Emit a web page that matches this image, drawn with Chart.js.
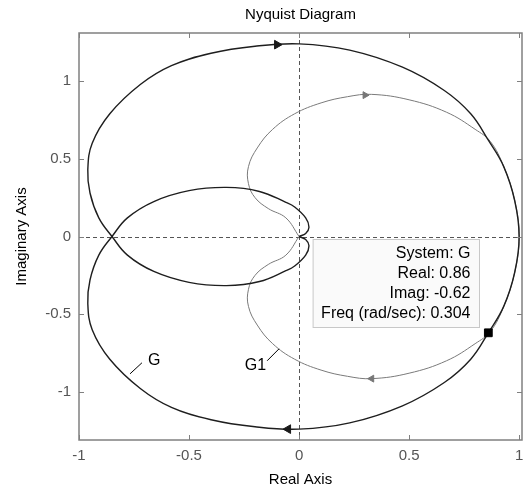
<!DOCTYPE html>
<html>
<head>
<meta charset="utf-8">
<script src="https://cdn.jsdelivr.net/npm/chart.js@4.4.0/dist/chart.umd.min.js"></script>
<style>
  html, body { margin: 0; padding: 0; background: #ffffff; }
</style>
</head>
<body>
<canvas id="nyquist" width="532" height="491"></canvas>
<script>
/* --------------- Curve G (real / imag, from w = -inf to +inf) --------------------- */
const gRe = [0, 0.03, 0.045, 0.03, -0.02, -0.06, -0.18, -0.33, -0.5, -0.66, -0.78, -0.85,
             -0.91, -0.95, -0.96, -0.94, -0.86, -0.72, -0.58, -0.40, -0.2, 0, 0.23, 0.47, 0.66, 0.78, 0.86, 0.93, 0.98, 1.0,
             0.98, 0.93, 0.86, 0.78, 0.66, 0.47, 0.23, 0, -0.2, -0.40, -0.58, -0.72, -0.86, -0.94, -0.96, -0.95, -0.91,
             -0.85, -0.78, -0.66, -0.5, -0.33, -0.18, -0.06, -0.02, 0.03, 0.045, 0.03, 0];
const gIm = [0, -0.02, -0.06, -0.12, -0.19, -0.22, -0.29, -0.316, -0.295, -0.225, -0.12, 0,
             0.12, 0.28, 0.43, 0.60, 0.79, 0.98, 1.10, 1.18, 1.225, 1.24, 1.20, 1.09, 0.94, 0.79, 0.62, 0.45, 0.23, 0,
             -0.23, -0.45, -0.62, -0.79, -0.94, -1.09, -1.20, -1.24, -1.225, -1.18, -1.10, -0.98, -0.79, -0.60, -0.43, -0.28, -0.12,
             0, 0.12, 0.225, 0.295, 0.316, 0.29, 0.22, 0.19, 0.12, 0.06, 0.02, 0];
/* --------------- Curve G1 --------------------- */
const g1Re = [0, -0.06, -0.14, -0.20, -0.23, -0.23, -0.19, -0.12, -0.02, 0.1, 0.22, 0.33, 0.5, 0.67, 0.8, 0.87, 0.93, 0.98, 1.0,
              0.98, 0.93, 0.87, 0.8, 0.67, 0.5, 0.33, 0.22, 0.1, -0.02, -0.12, -0.19, -0.23, -0.23, -0.20, -0.14, -0.06, 0];
const g1Im = [0, 0.12, 0.18, 0.25, 0.34, 0.45, 0.57, 0.69, 0.79, 0.86, 0.90, 0.915, 0.88, 0.80, 0.69, 0.61, 0.45, 0.23, 0,
              -0.23, -0.45, -0.61, -0.69, -0.80, -0.88, -0.915, -0.90, -0.86, -0.79, -0.69, -0.57, -0.45, -0.34, -0.25, -0.18, -0.12, 0];
/* --------------- Direction arrows --------------------- */
const gArrowRe = [-0.1, -0.05];
const gArrowIm = [1.235, -1.24];
const g1ArrowRe = [0.30, 0.33];
const g1ArrowIm = [0.91, -0.915];
const arrowTurn = [90, -90];
/* --------------- Data tip --------------------- */
const tipRe = 0.86;
const tipIm = -0.62;
const tipFreq = 0.304;
const tipLines = ["System: G", "Real: " + tipRe, "Imag: " + tipIm, "Freq (rad/sec): " + tipFreq];
/* --------------- Ticks --------------------- */
const xTicks = [-1, -0.5, 0, 0.5, 1];
const yTicks = [-1, -0.5, 0, 0.5, 1];
const xTickLabels = ["-1", "-0.5", "0", "0.5", "1"];
const yTickLabels = ["-1", "-0.5", "0", "0.5", "1"];

const FONT = "Arial, 'Liberation Sans', sans-serif";
const toPoints = (re, im) => re.map((v, i) => ({ x: v, y: im[i] }));

/* --------------- Frame, zero lines, labels, data tip --------------------- */
const nyquistExtras = {
  id: "nyquistExtras",
  beforeDatasetsDraw(chart) {
    const { ctx, chartArea: a, scales: { x, y } } = chart;
    ctx.save();
    ctx.strokeStyle = "#555555";
    ctx.lineWidth = 1;
    ctx.setLineDash([4, 3]);
    const x0 = Math.round(x.getPixelForValue(0)) + 0.5;
    const y0 = Math.round(y.getPixelForValue(0)) + 0.5;
    ctx.beginPath();
    ctx.moveTo(x0, a.top); ctx.lineTo(x0, a.bottom);
    ctx.moveTo(a.left, y0); ctx.lineTo(a.right, y0);
    ctx.stroke();
    ctx.restore();
  },
  afterDatasetsDraw(chart) {
    const { ctx, chartArea: a, scales: { x, y } } = chart;
    ctx.save();
    // frame
    ctx.strokeStyle = "#808080";
    ctx.lineWidth = 1.5;
    ctx.strokeRect(a.left, a.top, a.right - a.left, a.bottom - a.top);
    // inward ticks
    ctx.lineWidth = 1;
    ctx.beginPath();
    xTicks.forEach((v) => {
      const px = Math.round(x.getPixelForValue(v)) + 0.5;
      ctx.moveTo(px, a.bottom); ctx.lineTo(px, a.bottom - 5);
      ctx.moveTo(px, a.top); ctx.lineTo(px, a.top + 5);
    });
    yTicks.forEach((v) => {
      const py = Math.round(y.getPixelForValue(v)) + 0.5;
      ctx.moveTo(a.left, py); ctx.lineTo(a.left + 5, py);
      ctx.moveTo(a.right, py); ctx.lineTo(a.right - 5, py);
    });
    ctx.stroke();

    // title
    ctx.fillStyle = "#000000";
    ctx.font = "15px " + FONT;
    ctx.textAlign = "center";
    ctx.textBaseline = "middle";
    ctx.fillText("Nyquist Diagram", (a.left + a.right) / 2, 15);

    // curve labels with leader lines
    ctx.strokeStyle = "#000000";
    ctx.beginPath();
    ctx.moveTo(x.getPixelForValue(-0.768), y.getPixelForValue(-0.884));
    ctx.lineTo(x.getPixelForValue(-0.714), y.getPixelForValue(-0.813));
    ctx.moveTo(x.getPixelForValue(-0.145), y.getPixelForValue(-0.80));
    ctx.lineTo(x.getPixelForValue(-0.091), y.getPixelForValue(-0.723));
    ctx.stroke();
    ctx.font = "16px " + FONT;
    ctx.textAlign = "left";
    ctx.fillText("G", x.getPixelForValue(-0.686), y.getPixelForValue(-0.80));
    ctx.textAlign = "right";
    ctx.fillText("G1", x.getPixelForValue(-0.150), y.getPixelForValue(-0.83));

    // data tip box
    const tx = x.getPixelForValue(tipRe);
    const ty = y.getPixelForValue(tipIm);
    ctx.font = "16px " + FONT;
    const w = Math.max(...tipLines.map((t) => ctx.measureText(t).width)) + 17;
    const right = Math.round(tx - 9) + 0.5;
    const bottom = Math.round(ty - 6) + 0.5;
    const h = 88;
    ctx.fillStyle = "#fafafa";
    ctx.fillRect(right - w, bottom - h, w, h);
    ctx.strokeStyle = "#c8c8c8";
    ctx.strokeRect(right - w, bottom - h, w, h);
    ctx.fillStyle = "#000000";
    ctx.textAlign = "right";
    tipLines.forEach((t, i) => ctx.fillText(t, right - 9, bottom - h + 14 + i * 20));
    ctx.restore();
  },
};

/* --------------- Chart --------------------- */
const nyquistChart = new Chart(document.getElementById("nyquist"), {
  type: "scatter",
  plugins: [nyquistExtras],
  data: {
    datasets: [
      {
        label: "tip",
        data: [{ x: tipRe, y: tipIm }],
        pointStyle: "rect",
        pointRadius: 5.5,
        backgroundColor: "#000000",
        borderColor: "#000000",
        order: 0,
      },
      {
        label: "G arrows",
        data: toPoints(gArrowRe, gArrowIm),
        pointStyle: "triangle",
        rotation: arrowTurn,
        pointRadius: 5,
        backgroundColor: "#1a1a1a",
        borderColor: "#1a1a1a",
        order: 1,
      },
      {
        label: "G",
        data: toPoints(gRe, gIm),
        showLine: true,
        tension: 0.4,
        pointRadius: 0,
        borderColor: "#1e1e1e",
        borderWidth: 1.4,
        order: 2,
      },
      {
        label: "G1 arrows",
        data: toPoints(g1ArrowRe, g1ArrowIm),
        pointStyle: "triangle",
        rotation: arrowTurn,
        pointRadius: 4,
        backgroundColor: "#777777",
        borderColor: "#777777",
        order: 3,
      },
      {
        label: "G1",
        data: toPoints(g1Re, g1Im),
        showLine: true,
        tension: 0.4,
        pointRadius: 0,
        borderColor: "#7a7a7a",
        borderWidth: 1,
        order: 4,
      },
    ],
  },
  options: {
    responsive: false,
    animation: false,
    layout: { padding: { top: 33, right: 10, left: 0, bottom: 0 } },
    plugins: {
      legend: { display: false },
      tooltip: { enabled: false },
    },
    scales: {
      x: {
        type: "linear",
        min: -1,
        max: 1.013,
        afterBuildTicks: (s) => { s.ticks = xTicks.map((v) => ({ value: v })); },
        afterFit: (s) => { s.height = 51; },
        grid: { display: false, drawTicks: false },
        border: { display: false },
        ticks: {
          padding: 7,
          color: "#555555",
          font: { family: FONT, size: 15 },
          callback: (v) => xTickLabels[xTicks.indexOf(v)],
        },
        title: { display: true, text: "Real Axis", color: "#000000", font: { family: FONT, size: 15 }, padding: { top: 0, bottom: 2 } },
      },
      y: {
        type: "linear",
        min: -1.31,
        max: 1.31,
        afterBuildTicks: (s) => { s.ticks = yTicks.map((v) => ({ value: v })); },
        afterFit: (s) => { s.width = 79; },
        grid: { display: false, drawTicks: false },
        border: { display: false },
        ticks: {
          padding: 8,
          color: "#555555",
          font: { family: FONT, size: 15 },
          callback: (v) => yTickLabels[yTicks.indexOf(v)],
        },
        title: { display: true, text: "Imaginary Axis", color: "#000000", font: { family: FONT, size: 15 }, padding: { top: 13, bottom: 0 } },
      },
    },
  },
});
</script>
</body>
</html>
